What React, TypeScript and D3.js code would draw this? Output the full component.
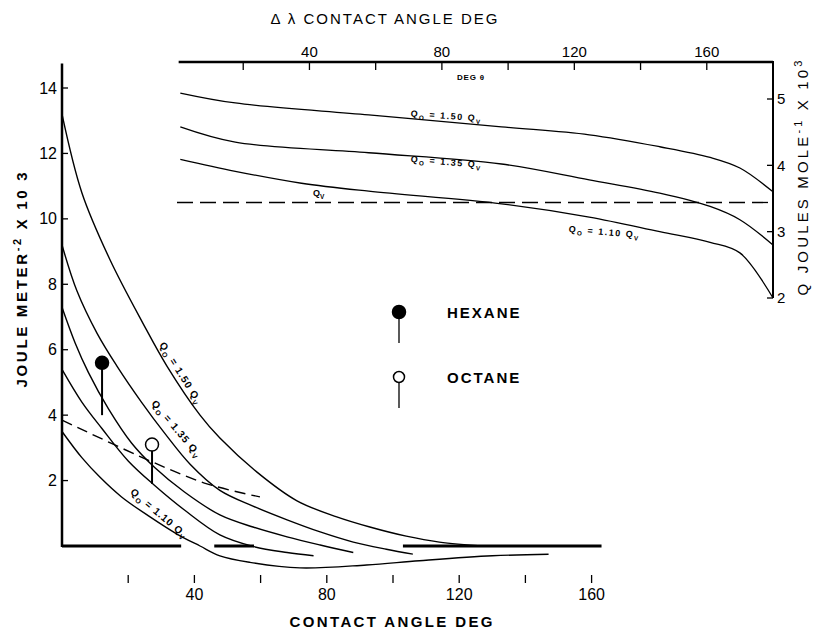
import * as d3 from 'd3';
import React from 'react';

type Pt = [number, number];

// axis ticks
const bottomTicks = [20, 40, 60, 80, 100, 120, 140, 160];
const bottomLabels = [40, 80, 120, 160];
const leftTicks = [2, 4, 6, 8, 10, 12, 14];
const topTicks = [20, 40, 60, 80, 100, 120, 140, 160];
const topLabels = [40, 80, 120, 160];
const rightTicks = [2, 3, 4, 5];

// main panel: contact angle (deg) vs J m^-2 x 10^3
const mainQ150: Pt[] = [[0, 13.2], [6, 10.8], [14.5, 8.75], [24.5, 6.8], [31.7, 5.5], [41.7, 4.0], [47.7, 3.3], [59, 2.25], [71, 1.38], [83, 0.89], [93, 0.58], [104, 0.3], [114, 0.12], [128, 0]];
const mainQ135: Pt[] = [[0, 9.2], [4.5, 7.8], [10.6, 6.5], [16.6, 5.5], [24, 4.4], [31, 3.45], [38.7, 2.5], [47.7, 1.7], [57.7, 1.22], [68, 0.8], [78, 0.43], [88, 0.12], [98, -0.1], [106, -0.25]];
const mainQ125: Pt[] = [[0, 7.3], [4, 6.2], [8, 5.3], [14, 4.2], [21, 3.15], [28, 2.4], [37, 1.65], [47.7, 0.95], [57.7, 0.58], [68, 0.28], [78, 0.03], [88, -0.2]];
const mainQ120: Pt[] = [[0, 5.4], [6, 4.4], [12, 3.6], [20, 2.6], [28, 1.85], [37, 1.1], [47.7, 0.34], [58, -0.02], [68, -0.2], [76, -0.3]];
const mainQ110: Pt[] = [[0, 3.5], [6, 2.7], [11.5, 2.1], [18, 1.5], [26.6, 0.89], [35, 0.35], [41.7, 0.0], [47.7, -0.3], [56.8, -0.5], [71.9, -0.67], [92, -0.58], [108, -0.45], [130, -0.3], [147, -0.25]];
const mainDashed: Pt[] = [[0, 3.85], [26.6, 2.6], [43.8, 1.9], [59.8, 1.5]];
const baselineSegments: Pt[] = [[0, 36], [46, 58], [103, 163]];

// measured points (lollipops)
const markerNames = ['HEXANE', 'OCTANE'];
const markerAngles = [12.1, 27.2];
const markerValues = [5.6, 3.1];
const markerLows = [4.0, 1.9];

// inset: delta-lambda contact angle vs Q J mole^-1 x 10^3
const insetQ150: Pt[] = [[1, 5.09], [17.6, 4.94], [57.9, 4.76], [98, 4.58], [124.5, 4.46], [145.8, 4.28], [161, 4.12], [170, 3.96], [180, 3.6]];
const insetQ135: Pt[] = [[1, 4.58], [17.6, 4.35], [57.9, 4.19], [98, 4.02], [124.5, 3.78], [145.8, 3.58], [161, 3.38], [170, 3.18], [180, 2.8]];
const insetQ110: Pt[] = [[1, 4.09], [17.6, 3.91], [37.6, 3.73], [57.9, 3.61], [98, 3.42], [124.5, 3.22], [145.8, 3.0], [161, 2.84], [170, 2.68], [180, 2.0]];
const insetQv: Pt[] = [[0, 3.44], [180, 3.44]];

const FONT = '"Liberation Sans", Arial, Helvetica, sans-serif';

const QLabel: React.FC<{ x: number; y: number; rotate: number; ratio: string; size: number; spacing?: number }> = ({ x, y, rotate, ratio, size, spacing = 1 }) => (
  <text transform={`translate(${x},${y}) rotate(${rotate})`} fontSize={size} letterSpacing={spacing} textAnchor="middle" fontFamily={FONT} fontWeight="bold">
    Q<tspan dy={size * 0.3} fontSize={size * 0.7}>O</tspan>
    <tspan dy={-size * 0.3}>{` = ${ratio} Q`}</tspan>
    <tspan dy={size * 0.3} fontSize={size * 0.7}>V</tspan>
  </text>
);

const App: React.FC = () => {
  const width = 817;
  const height = 631;

  const xMain = d3.scaleLinear().domain([0, 180]).range([62, 62 + 180 * 3.31]);
  const yMain = d3.scaleLinear().domain([0, 14]).range([546, 88]);
  const xTop = d3.scaleLinear().domain([0, 180]).range([177, 773]);
  const yRight = d3.scaleLinear().domain([2, 5]).range([298, 99]);

  const mainLine = d3.line<Pt>().x((d) => xMain(d[0])).y((d) => yMain(d[1])).curve(d3.curveCatmullRom.alpha(0.5));
  const insetLine = d3.line<Pt>().x((d) => xTop(d[0])).y((d) => yRight(d[1])).curve(d3.curveCatmullRom.alpha(0.5));

  const mainCurves = [mainQ150, mainQ135, mainQ125, mainQ120, mainQ110];
  const insetCurves = [insetQ150, insetQ135, insetQ110];

  const tickY = 575;

  return (
    <svg width={width} height={height} style={{ position: 'absolute', left: 0, top: 0 }} fontFamily={FONT}>
      <rect width={width} height={height} fill="#fff" />

      {/* inset top axis */}
      <text x={384} y={24} textAnchor="middle" fontSize={15} textLength={227} lengthAdjust="spacing">
        Δ λ  CONTACT ANGLE DEG
      </text>
      <line x1={xTop(0.5)} x2={xTop(180)} y1={62} y2={62} stroke="#000" strokeWidth={2.5} />
      {topTicks.map((t) => (
        <line key={`tt-${t}`} x1={xTop(t)} x2={xTop(t)} y1={62} y2={70} stroke="#000" strokeWidth={1.3} />
      ))}
      {topLabels.map((t) => (
        <text key={`tl-${t}`} x={xTop(t)} y={57} textAnchor="middle" fontSize={15}>
          {t}
        </text>
      ))}
      <text x={457} y={80} fontSize={8} fontWeight="bold" letterSpacing={0.8}>
        DEG θ
      </text>

      {/* inset right axis */}
      <line x1={xTop(180)} x2={xTop(180)} y1={61} y2={yRight(2)} stroke="#000" strokeWidth={2} />
      {rightTicks.map((t) => (
        <g key={`rt-${t}`}>
          <line x1={xTop(180) - 6} x2={xTop(180)} y1={yRight(t)} y2={yRight(t)} stroke="#000" strokeWidth={1.3} />
          <text x={xTop(180) + 4} y={yRight(t)} dy="0.35em" fontSize={15}>
            {t}
          </text>
        </g>
      ))}
      <text transform="translate(808,178) rotate(-90)" textAnchor="middle" fontSize={15} textLength={235} lengthAdjust="spacing">
        Q  JOULES MOLE<tspan dy={-6} fontSize={11}>-1</tspan>
        <tspan dy={6}> X 10</tspan>
        <tspan dy={-6} fontSize={11}>3</tspan>
      </text>

      {/* inset curves */}
      {insetCurves.map((c, i) => (
        <path key={`ic-${i}`} d={insetLine(c) ?? ''} fill="none" stroke="#000" strokeWidth={1.3} />
      ))}
      <path d={insetLine(insetQv) ?? ''} fill="none" stroke="#000" strokeWidth={1.3} strokeDasharray="16 7" />
      <QLabel x={446} y={119} rotate={4} ratio="1.50" size={9} spacing={1.5} />
      <QLabel x={446} y={165} rotate={5} ratio="1.35" size={9} spacing={1.5} />
      <QLabel x={604} y={235} rotate={5} ratio="1.10" size={9} spacing={1.5} />
      <text x={313} y={196} fontSize={9} fontWeight="bold">
        Q<tspan dy={3} fontSize={6.5}>V</tspan>
      </text>

      {/* main axes */}
      <line x1={xMain(0)} x2={xMain(0)} y1={yMain(14.75)} y2={yMain(0) + 1} stroke="#000" strokeWidth={2.5} />
      {baselineSegments.map((s, i) => (
        <line key={`bs-${i}`} x1={xMain(s[0])} x2={xMain(s[1])} y1={yMain(0)} y2={yMain(0)} stroke="#000" strokeWidth={3} />
      ))}
      {leftTicks.map((t) => (
        <g key={`lt-${t}`}>
          <line x1={xMain(0)} x2={xMain(0) + 6} y1={yMain(t)} y2={yMain(t)} stroke="#000" strokeWidth={1.3} />
          <text x={xMain(0) - 5} y={yMain(t)} dy="0.35em" textAnchor="end" fontSize={16}>
            {t}
          </text>
        </g>
      ))}
      {bottomTicks.map((t) => (
        <line key={`bt-${t}`} x1={xMain(t)} x2={xMain(t)} y1={tickY} y2={tickY + 8} stroke="#000" strokeWidth={1.3} />
      ))}
      {bottomLabels.map((t) => (
        <text key={`bl-${t}`} x={xMain(t)} y={600} textAnchor="middle" fontSize={16}>
          {t}
        </text>
      ))}
      <text x={391} y={627} textAnchor="middle" fontSize={15} fontWeight="bold" textLength={203} lengthAdjust="spacing">
        CONTACT ANGLE DEG
      </text>
      <text transform="translate(27,280) rotate(-90)" textAnchor="middle" fontSize={15} fontWeight="bold" textLength={215} lengthAdjust="spacing">
        JOULE METER<tspan dy={-6} fontSize={11}>-2</tspan>
        <tspan dy={6}> X 10 3</tspan>
      </text>

      {/* main curves */}
      {mainCurves.map((c, i) => (
        <path key={`mc-${i}`} d={mainLine(c) ?? ''} fill="none" stroke="#000" strokeWidth={1.4} />
      ))}
      <path d={mainLine(mainDashed) ?? ''} fill="none" stroke="#000" strokeWidth={1.4} strokeDasharray="11 6" />
      <QLabel x={178} y={375} rotate={58} ratio="1.50" size={10} />
      <QLabel x={174} y={431} rotate={50} ratio="1.35" size={10} />
      <QLabel x={157} y={516} rotate={40} ratio="1.10" size={10} />

      {/* measured points */}
      {markerNames.map((name, i) => (
        <g key={`m-${name}`}>
          <line x1={xMain(markerAngles[i])} x2={xMain(markerAngles[i])} y1={yMain(markerValues[i])} y2={yMain(markerLows[i])} stroke="#000" strokeWidth={2} />
          <circle cx={xMain(markerAngles[i])} cy={yMain(markerValues[i])} r={6.5} fill={i === 0 ? '#000' : '#fff'} stroke="#000" strokeWidth={1.5} />
        </g>
      ))}

      {/* legend */}
      {markerNames.map((name, i) => {
        const cy = i === 0 ? 312 : 377;
        return (
          <g key={`lg-${name}`}>
            <line x1={399} x2={399} y1={cy} y2={cy + 31} stroke="#000" strokeWidth={1.3} />
            <circle cx={399} cy={cy} r={i === 0 ? 6.5 : 5.5} fill={i === 0 ? '#000' : '#fff'} stroke="#000" strokeWidth={1.5} />
            <text x={447} y={cy + 6} fontSize={15} fontWeight="bold" letterSpacing={2}>
              {name}
            </text>
          </g>
        );
      })}
    </svg>
  );
};

export default App;
